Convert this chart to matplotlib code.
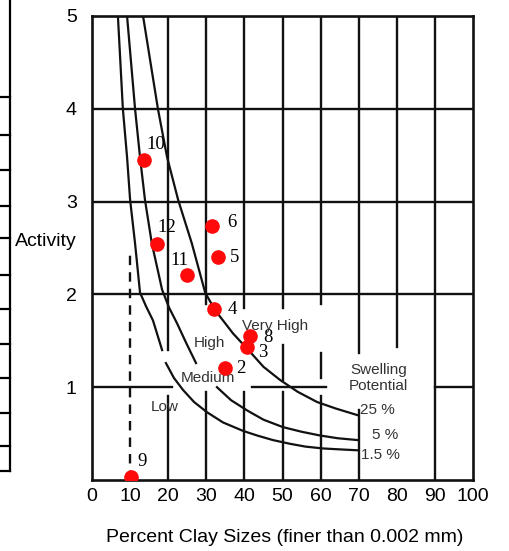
import numpy as np
import matplotlib
matplotlib.use('Agg')
from matplotlib import pyplot as plt
from matplotlib.lines import Line2D

# sample points (percent clay, activity)
sample_ids = ['10', '12', '11', '6', '5', '4', '8', '3', '2', '9']
sample_clay = [13.7, 17.1, 25.0, 31.6, 33.0, 32.1, 41.6, 40.8, 35.0, 10.2]
sample_activity = [3.45, 2.54, 2.21, 2.74, 2.40, 1.84, 1.55, 1.43, 1.21, 0.03]
label_offsets = [(12, 15), (10, 17), (-8, 14), (19, 3), (17, 0),
                 (18, 0), (17, -1), (15, -5), (15, -1), (11, 16)]

# swelling potential boundaries (nan = gap in the printed line)
clay_25 = [13.4, 17.3, 19.7, 22.6, 26.2, 29.7, 32.3, 37.0, 41.5, 45.0, 49.3, 54.0,
           59.1, 64.0, 69.6]
act_25 = [5.0, 4.00, 3.48, 3.02, 2.55, 2.02, 1.83, 1.58, 1.38, 1.22, 1.08, 0.95,
          0.84, 0.77, 0.70]
clay_5 = [9.2, 11.3, 12.6, 13.9, 15.7, 18.4, 20.2, 22.3, 24.8, 27.3, np.nan,
          32.8, 36.5, 40.7, 45.0, 50.1, 55.0, 59.8, 64.5, 69.8]
act_5 = [5.0, 4.00, 3.48, 3.02, 2.55, 2.05, 1.86, 1.69, 1.47, 1.26, np.nan,
         1.00, 0.86, 0.75, 0.65, 0.57, 0.52, 0.48, 0.45, 0.43]
clay_15 = [6.8, 8.1, 9.2, 10.0, 11.3, 12.6, 14.2, 16.0, 18.4, np.nan, 19.4, 21.5,
           23.9, 26.8, 30.2, 34.4, 39.6, 43.3, 47.5, 52.0, 56.0, 60.6, 65.0, 69.8]
act_15 = [5.0, 4.00, 3.48, 3.02, 2.55, 2.02, 1.87, 1.72, 1.40, np.nan, 1.26, 1.10,
          0.97, 0.84, 0.73, 0.62, 0.53, 0.48, 0.43, 0.39, 0.36, 0.34, 0.33, 0.32]

x_ticks = [0, 10, 20, 30, 40, 50, 60, 70, 80, 90, 100]
y_ticks = [0, 1, 2, 3, 4, 5]

# printed grid is broken in places
v_grid = {
    20: [(1.4, 5.0), (0.0, 0.9)],
    30: [(1.9, 5.0), (0.0, 0.95)],
    40: [(1.85, 5.0), (0.0, 0.95)],
    50: [(1.85, 5.0), (1.08, 1.45), (0.0, 0.95)],
    60: [(1.9, 5.0), (1.1, 1.37), (0.0, 0.9)],
    70: [(1.37, 5.0), (0.0, 0.75)],
    80: [(1.43, 5.0)],
    90: [(0.0, 5.0)],
}
h_grid = {4: [(0, 100)], 3: [(0, 100)], 2: [(0, 100)],
          1: [(0, 21), (42, 61.5), (90, 100)]}

W, H = 509, 551
fig = plt.figure(figsize=(W / 100, H / 100), dpi=100)
ax = fig.add_axes([92 / W, 1 - 480 / H, 381 / W, 464 / H])
ink = '#111111'
sans = ['Liberation Sans', 'DejaVu Sans']

for x, segs in v_grid.items():
    for y0, y1 in segs:
        ax.plot([x, x], [y0, y1], color=ink, lw=1.7)
ax.plot([10, 10], [0, 2.45], color=ink, lw=1.7, ls=(0, (4, 3)))
for y, segs in h_grid.items():
    for x0, x1 in segs:
        ax.plot([x0, x1], [y, y], color=ink, lw=1.7)

for cx, cy in [(clay_25, act_25), (clay_5, act_5), (clay_15, act_15)]:
    ax.plot(cx, cy, color=ink, lw=1.6)

ax.plot(sample_clay, sample_activity, 'o', color='#ff0a0a', ms=9.5, zorder=5)
for sid, cx, cy, off in zip(sample_ids, sample_clay, sample_activity, label_offsets):
    ax.annotate(sid, (cx, cy), xytext=off, textcoords='offset pixels',
                ha='center', va='center', fontsize=13.5, family='Liberation Serif')

txt = dict(fontsize=11, color='#333333', family=sans, ha='center', va='center')
ax.text(48.0, 1.66, 'Very High', **txt)
ax.text(30.8, 1.48, 'High', **txt)
ax.text(30.5, 1.10, 'Medium', **txt)
ax.text(19.1, 0.79, 'Low', **txt)
ax.text(75.2, 1.10, 'Swelling\nPotential', linespacing=1.15, **txt)
ax.text(75.0, 0.75, '25 %', **txt)
ax.text(77.0, 0.48, '5 %', **txt)
ax.text(75.7, 0.27, '1.5 %', **txt)

ax.set_xlim(0, 100)
ax.set_ylim(0, 5)
ax.set_xticks(x_ticks)
ax.set_yticks(y_ticks)
ax.set_yticklabels(['', '1', '2', '3', '4', '5'])
ax.tick_params(length=0, labelsize=14, pad=6)
ax.tick_params(axis='y', pad=11)
for lab in ax.get_xticklabels() + ax.get_yticklabels():
    lab.set_family(sans)
for sp in ax.spines.values():
    sp.set_linewidth(1.9)
    sp.set_color(ink)

ax.set_xlabel('Percent Clay Sizes (finer than 0.002 mm)', fontsize=14, family=sans,
              va='center')
ax.xaxis.set_label_coords(0.507, -0.125)
ax.set_ylabel('Activity', fontsize=14, family=sans, rotation=0, ha='center', va='center')
ax.yaxis.set_label_coords(-0.12, 0.513)

# cut-off table border at the left edge
rows = [97, 135, 170, 206, 238, 275, 309, 344, 378, 413, 446, 471]
fig.add_artist(Line2D([10 / W, 10 / W], [1.0, 1 - 471 / H], color='black', lw=1.6,
                      transform=fig.transFigure))
for r in rows:
    fig.add_artist(Line2D([0, 10 / W], [1 - r / H, 1 - r / H], color='black', lw=1.6,
                          transform=fig.transFigure))

plt.savefig('out.png', dpi=100)
